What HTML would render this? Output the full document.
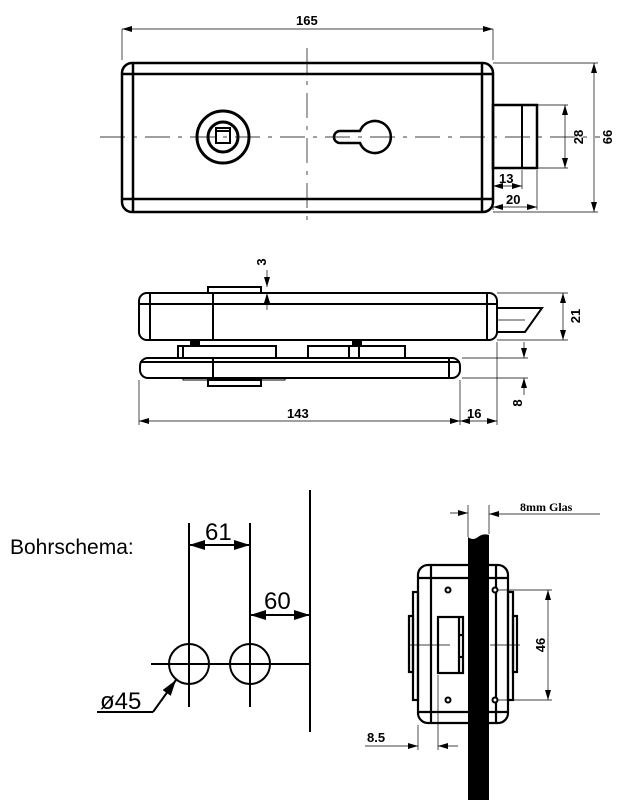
<!DOCTYPE html>
<html><head><meta charset="utf-8"><style>
html,body{margin:0;padding:0;background:#fff;}
svg{display:block;}
text{font-family:"Liberation Sans",sans-serif;fill:#000;}
.b{font-weight:bold;}
</style></head><body>
<svg width="633" height="800" viewBox="0 0 633 800" xmlns="http://www.w3.org/2000/svg">
<defs>
<marker id="a" viewBox="0 0 10 6" refX="10" refY="3" markerWidth="10" markerHeight="6" orient="auto-start-reverse" markerUnits="userSpaceOnUse"><path d="M0,0 L10,3 L0,6 Z" fill="#000"/></marker>
<marker id="A" viewBox="0 0 16 10" refX="16" refY="5" markerWidth="16" markerHeight="10" orient="auto-start-reverse" markerUnits="userSpaceOnUse"><path d="M0,0 L16,5 L0,10 Z" fill="#000"/></marker>
</defs>
<!-- TOP VIEW -->
<g fill="none" stroke="#000">
<line x1="100" y1="137" x2="600" y2="137" stroke-width="0.7" stroke-dasharray="25,8,4,8"/>
<line x1="307" y1="48" x2="307" y2="228" stroke-width="0.7" stroke-dasharray="25,8,4,8"/>
<rect x="122" y="63" width="371" height="149" rx="10" stroke-width="2.5"/>
<line x1="133" y1="63" x2="133" y2="212" stroke-width="2.5"/>
<line x1="482" y1="63" x2="482" y2="212" stroke-width="2.5"/>
<line x1="122" y1="74" x2="493" y2="74" stroke-width="2.5"/>
<line x1="122" y1="199" x2="493" y2="199" stroke-width="2.5"/>
<rect x="493" y="105" width="44" height="63" stroke-width="2.5"/>
<line x1="522" y1="105" x2="522" y2="168" stroke-width="2"/>
<circle cx="223" cy="137" r="26" stroke-width="3"/>
<circle cx="223" cy="137" r="15" stroke-width="3"/>
<rect x="216" y="128" width="14" height="15" stroke-width="2"/>
<line x1="216" y1="131" x2="230" y2="131" stroke-width="2"/>
<path d="M360,131 L340,131 A6,6 0 0 0 340,143 L360,143 A16,16 0 1 0 360,131 Z" stroke-width="2.5"/>
<g stroke-width="0.7">
<line x1="122" y1="29" x2="122" y2="60"/><line x1="493" y1="29" x2="493" y2="60"/>
<line x1="122" y1="29" x2="493" y2="29" marker-start="url(#a)" marker-end="url(#a)"/>
<line x1="493" y1="63" x2="598" y2="63"/><line x1="493" y1="212" x2="598" y2="212"/>
<line x1="594" y1="63" x2="594" y2="212" marker-start="url(#a)" marker-end="url(#a)"/>
<line x1="537" y1="105" x2="568" y2="105"/><line x1="537" y1="168" x2="568" y2="168"/>
<line x1="565" y1="105" x2="565" y2="168" marker-start="url(#a)" marker-end="url(#a)"/>
<line x1="493" y1="170" x2="493" y2="210"/><line x1="522" y1="170" x2="522" y2="189"/><line x1="537" y1="170" x2="537" y2="210"/>
<line x1="493" y1="186" x2="522" y2="186" marker-start="url(#a)" marker-end="url(#a)"/>
<line x1="493" y1="207" x2="537" y2="207" marker-start="url(#a)" marker-end="url(#a)"/>
</g>
</g>
<text x="296" y="25" font-size="13" class="b">165</text>
<text x="499" y="183" font-size="13" class="b">13</text>
<text x="506" y="204" font-size="13" class="b">20</text>
<text transform="translate(583,137) rotate(-90)" font-size="13" class="b" text-anchor="middle">28</text>
<text transform="translate(612,137) rotate(-90)" font-size="13" class="b" text-anchor="middle">66</text>

<!-- SIDE VIEW -->
<g fill="none" stroke="#000" stroke-width="2">
<rect x="139" y="293" width="358" height="47" rx="8"/>
<line x1="150" y1="293" x2="150" y2="340"/>
<line x1="487" y1="293" x2="487" y2="340"/>
<line x1="139" y1="304" x2="497" y2="304"/>
<line x1="213" y1="293" x2="213" y2="340"/>
<rect x="208" y="287" width="53" height="6"/>
<path d="M497,308 L542,308 L525,332 L497,332"/>
<line x1="497" y1="320" x2="525" y2="320" stroke-width="0.7"/>
<rect x="140" y="358" width="320" height="20" rx="8"/>
<line x1="140" y1="362" x2="460" y2="362"/>
<line x1="213" y1="358" x2="213" y2="378"/>
<line x1="449" y1="358" x2="449" y2="378"/>
<rect x="178" y="346" width="98" height="12"/>
<line x1="183" y1="346" x2="183" y2="358"/>
<rect x="308" y="346" width="97" height="12"/>
<line x1="349" y1="346" x2="349" y2="358"/><line x1="359" y1="346" x2="359" y2="358"/>
<rect x="183" y="378" width="102" height="2" stroke-width="1"/>
<rect x="208" y="380" width="53" height="6"/>
</g>
<rect x="190" y="341" width="10" height="5" fill="#000"/>
<rect x="352" y="341" width="10" height="5" fill="#000"/>
<g fill="none" stroke="#000" stroke-width="0.7">
<line x1="139" y1="380" x2="139" y2="425"/><line x1="460" y1="380" x2="460" y2="425"/><line x1="497" y1="342" x2="497" y2="425"/>
<line x1="139" y1="421" x2="460" y2="421" marker-start="url(#a)" marker-end="url(#a)"/>
<line x1="460" y1="421" x2="497" y2="421" marker-start="url(#a)" marker-end="url(#a)"/>
<line x1="497" y1="293" x2="568" y2="293"/><line x1="497" y1="340" x2="568" y2="340"/>
<line x1="563" y1="293" x2="563" y2="340" marker-start="url(#a)" marker-end="url(#a)"/>
<line x1="462" y1="358" x2="528" y2="358"/><line x1="462" y1="378" x2="528" y2="378"/>
<line x1="524" y1="342" x2="524" y2="358" marker-end="url(#a)"/>
<line x1="524" y1="395" x2="524" y2="378" marker-end="url(#a)"/>
<line x1="267" y1="270" x2="267" y2="287" marker-end="url(#a)"/>
<line x1="267" y1="310" x2="267" y2="293" marker-end="url(#a)"/>
</g>
<text x="287" y="418" font-size="13" class="b">143</text>
<text x="467" y="418" font-size="13" class="b">16</text>
<text transform="translate(580,316) rotate(-90)" font-size="13" class="b" text-anchor="middle">21</text>
<text transform="translate(522,403) rotate(-90)" font-size="13" class="b" text-anchor="middle">8</text>
<text transform="translate(266,262) rotate(-90)" font-size="13" class="b" text-anchor="middle">3</text>

<!-- BOHRSCHEMA -->
<text x="10" y="554" font-size="21">Bohrschema:</text>
<g fill="none" stroke="#000" stroke-width="2">
<line x1="310" y1="490" x2="310" y2="732"/>
<line x1="151" y1="664" x2="310" y2="664"/>
<line x1="189" y1="523" x2="189" y2="707"/>
<line x1="250" y1="523" x2="250" y2="707"/>
<circle cx="189" cy="664" r="20"/>
<circle cx="250" cy="664" r="20"/>
<line x1="189" y1="545" x2="250" y2="545" marker-start="url(#A)" marker-end="url(#A)"/>
<line x1="250" y1="615" x2="310" y2="615" marker-start="url(#A)" marker-end="url(#A)"/>
<line x1="97" y1="712" x2="153" y2="712"/>
<polyline points="153,712 176,680" marker-end="url(#A)"/>
</g>
<text x="205" y="540" font-size="24">61</text>
<text x="264" y="609" font-size="24">60</text>
<text x="100" y="709" font-size="24">ø45</text>

<!-- GLASS VIEW -->
<g fill="none" stroke="#000" stroke-width="2.2">
<rect x="418" y="565" width="90" height="158" rx="10"/>
<line x1="431" y1="565" x2="431" y2="723"/>
<line x1="496" y1="565" x2="496" y2="723"/>
<line x1="418" y1="578" x2="508" y2="578"/>
<line x1="418" y1="712" x2="508" y2="712"/>
<rect x="413" y="592" width="5" height="108"/>
<rect x="409" y="616" width="4" height="56"/>
<rect x="508" y="592" width="5" height="108"/>
<rect x="513" y="616" width="4" height="56"/>
<rect x="438" y="617" width="25" height="56"/>
<line x1="459" y1="617" x2="459" y2="673"/>
<line x1="459" y1="635" x2="463" y2="635"/><line x1="459" y1="657" x2="463" y2="657"/>
</g>
<path d="M468,537 Q473,541 478,537 Q483,533 489,535 L489,800 L468,800 Z" fill="#000"/>
<g fill="#fff" stroke="#000" stroke-width="2">
<circle cx="448" cy="590" r="2.5"/><circle cx="448" cy="700" r="2.5"/>
<circle cx="495" cy="590" r="2.5"/><circle cx="495" cy="700" r="2.5"/>
</g>
<g fill="none" stroke="#000" stroke-width="0.7">
<line x1="410" y1="645" x2="450" y2="645"/><line x1="490" y1="645" x2="520" y2="645"/>
<line x1="468" y1="505" x2="468" y2="537"/><line x1="489" y1="505" x2="489" y2="534"/>
<line x1="450" y1="513" x2="468" y2="513" marker-end="url(#a)"/>
<line x1="600" y1="514" x2="489" y2="514" marker-end="url(#a)"/>
<line x1="497" y1="590" x2="552" y2="590"/><line x1="497" y1="700" x2="552" y2="700"/>
<line x1="548" y1="590" x2="548" y2="700" marker-start="url(#a)" marker-end="url(#a)"/>
<line x1="418" y1="725" x2="418" y2="750"/><line x1="438" y1="675" x2="438" y2="750"/>
<line x1="365" y1="746" x2="418" y2="746" marker-end="url(#a)"/>
<line x1="458" y1="746" x2="438" y2="746" marker-end="url(#a)"/>
</g>
<text x="520" y="511" font-size="12" class="b" style="font-family:'Liberation Serif',serif">8mm  Glas</text>
<text transform="translate(545,645) rotate(-90)" font-size="13" class="b" text-anchor="middle">46</text>
<text x="367" y="742" font-size="13" class="b">8.5</text>
</svg>
</body></html>
